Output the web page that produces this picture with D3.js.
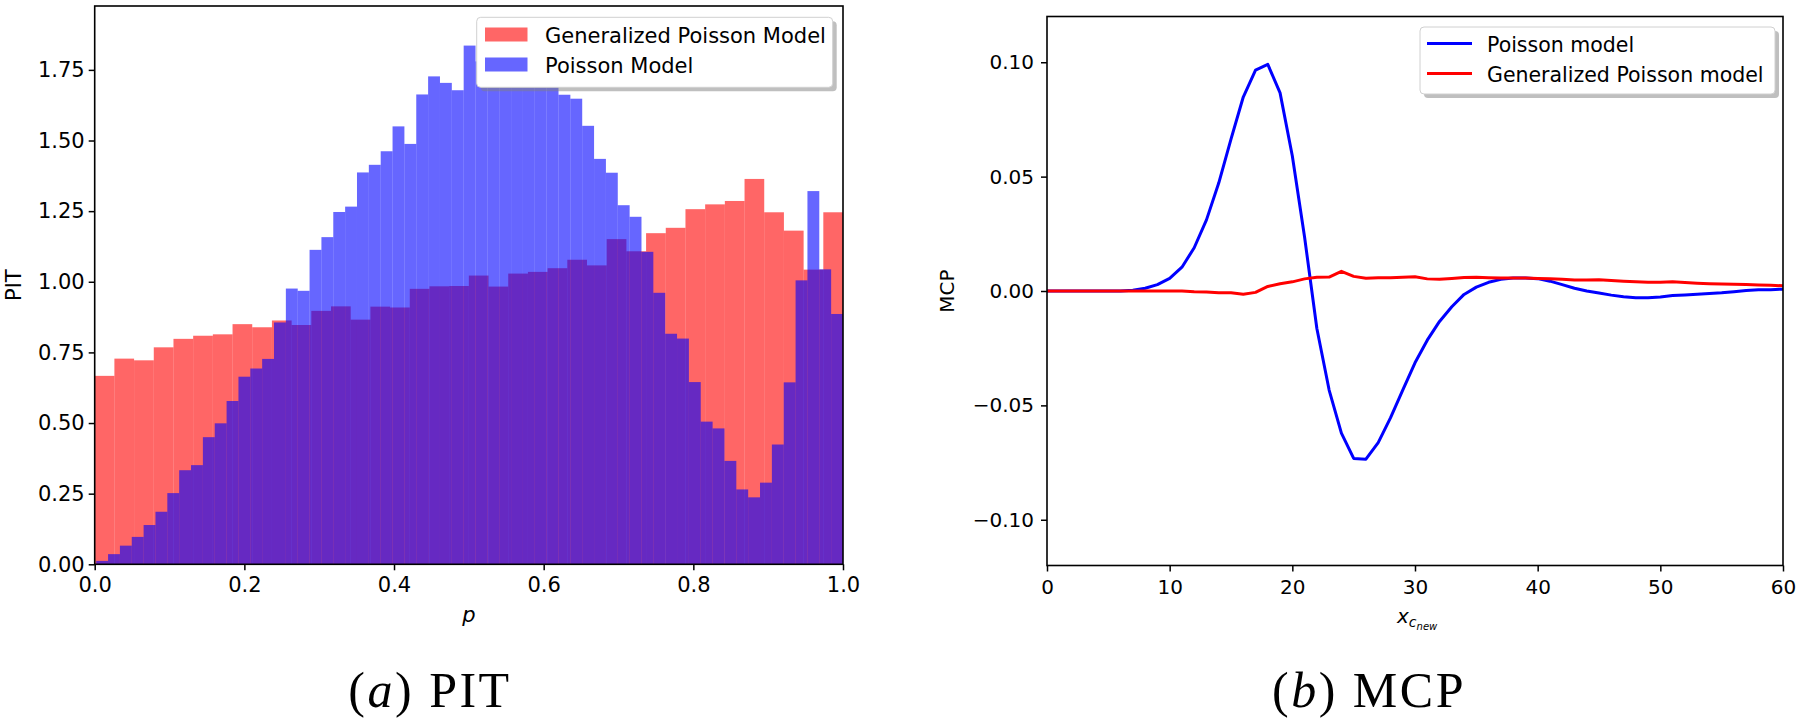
<!DOCTYPE html>
<html><head><meta charset="utf-8">
<script src="https://cdn.jsdelivr.net/npm/d3@7"></script>
<style>
body{margin:0;background:#fff;}
svg{display:block;}
</style></head><body>
<svg id="chart" width="1800" height="723"></svg>
<script>
// ---------- data: (a) PIT histograms (density per bin) ----------
const pitRedRange = [0, 1];          // Generalized Poisson: 38 bins over [0,1]
const pitRedDensity = [0.667,0.728,0.722,0.768,0.798,0.809,0.814,0.850,0.839,0.863,
  0.847,0.897,0.913,0.866,0.912,0.909,0.975,0.984,0.985,1.022,
  0.983,1.029,1.035,1.048,1.078,1.058,1.151,1.108,1.172,1.191,
  1.257,1.274,1.286,1.364,1.246,1.181,1.043,1.246];
const pitBlueRange = [0.002, 1];     // Poisson: 63 bins
const pitBlueDensity = [0.012,0.036,0.066,0.097,0.139,0.186,0.252,0.333,0.351,0.450,
  0.499,0.578,0.664,0.693,0.727,0.856,0.976,0.968,1.113,1.158,
  1.247,1.266,1.387,1.414,1.462,1.550,1.488,1.663,1.727,1.704,
  1.678,1.836,1.780,1.850,1.800,1.882,1.790,1.760,1.720,1.662,
  1.648,1.552,1.435,1.386,1.271,1.230,1.106,0.961,0.816,0.799,
  0.645,0.505,0.481,0.366,0.265,0.237,0.289,0.424,0.644,1.005,
  1.321,1.044,0.886];
const pitXTicks = [0, 0.2, 0.4, 0.6, 0.8, 1.0];
const pitYTicks = [0, 0.25, 0.5, 0.75, 1.0, 1.25, 1.5, 1.75];
const pitLegend = ["Generalized Poisson Model", "Poisson Model"];

// ---------- data: (b) MCP curves ----------
const mcpX = [0,1,2,3,4,5,6,7,8,9,10,11,12,13,14,15,16,17,18,19,20,
  21,22,23,24,25,26,27,28,29,30,31,32,33,34,35,36,37,38,39,40,
  41,42,43,44,45,46,47,48,49,50,51,52,53,54,55,56,57,58,59,60];
const mcpPoisson = [0,0,0,0,0,0,0,0.0003,0.0012,0.0028,0.0055,
  0.0104,0.0189,0.0311,0.0472,0.0664,0.0848,0.0966,0.0991,0.0866,0.0590,
  0.0235,-0.0164,-0.0433,-0.0621,-0.0732,-0.0735,-0.0663,-0.0555,-0.0433,-0.0314,
  -0.0215,-0.0133,-0.0069,-0.0015,0.0017,0.0038,0.0051,0.0057,0.0057,0.0054,
  0.0043,0.0028,0.0012,0.0000,-0.0009,-0.0018,-0.0025,-0.0029,-0.0029,-0.0026,
  -0.0020,-0.0017,-0.0014,-0.0011,-0.0008,-0.0003,0.0002,0.0005,0.0006,0.0008];
const mcpGenPoisson = [0,0,0,0,0,0,0,0,0,0,0,
  0.0000,-0.0003,-0.0004,-0.0008,-0.0008,-0.0014,-0.0006,0.0020,0.0032,0.0040,
  0.0053,0.0060,0.0061,0.0086,0.0064,0.0056,0.0058,0.0058,0.0060,0.0062,
  0.0053,0.0051,0.0055,0.0059,0.0060,0.0058,0.0057,0.0057,0.0057,0.0055,
  0.0054,0.0051,0.0048,0.0048,0.0049,0.0046,0.0043,0.0040,0.0038,0.0038,
  0.0040,0.0037,0.0034,0.0032,0.0031,0.0029,0.0028,0.0026,0.0025,0.0023];
const mcpXTicks = [0, 10, 20, 30, 40, 50, 60];
const mcpYTicks = [-0.10, -0.05, 0, 0.05, 0.10];
const mcpLegend = ["Poisson model", "Generalized Poisson model"];

// ---------- drawing ----------
const svg = d3.select("#chart");
svg.append("rect").attr("width",1800).attr("height",723).attr("fill","#fff");
const FONT = "DejaVu Sans, Verdana, sans-serif";

function histBins(range, dens){
  const n = dens.length, w = (range[1]-range[0])/n;
  return dens.map((v,i)=>({x0: range[0]+i*w, x1: range[0]+(i+1)*w, v}));
}

// ===== Panel (a) =====
const A = {l:94.7, r:843, t:6, b:564.3};
const ymaxA = 1.05*d3.max(pitBlueDensity.concat(pitRedDensity));
const xA = d3.scaleLinear().domain([0,1]).range([A.l,A.r]);
const yA = d3.scaleLinear().domain([0,ymaxA]).range([A.b,A.t]);
const gA = svg.append("g");
function drawHist(bins, color){
  gA.append("g").selectAll("rect").data(bins).join("rect")
    .attr("x", d=>xA(d.x0)).attr("width", d=>xA(d.x1)-xA(d.x0))
    .attr("y", d=>yA(d.v)).attr("height", d=>yA(0)-yA(d.v))
    .attr("fill", color).attr("fill-opacity",0.6);
}
drawHist(histBins(pitRedRange, pitRedDensity), "red");
drawHist(histBins(pitBlueRange, pitBlueDensity), "blue");

const axA_x = gA.append("g").attr("transform",`translate(0,${A.b})`)
  .call(d3.axisBottom(xA).tickValues(pitXTicks).tickFormat(d3.format(".1f")).tickSize(6).tickPadding(7).tickSizeOuter(0));
const axA_y = gA.append("g").attr("transform",`translate(${A.l},0)`)
  .call(d3.axisLeft(yA).tickValues(pitYTicks).tickFormat(d3.format(".2f")).tickSize(6).tickPadding(4).tickSizeOuter(0));
[axA_x, axA_y].forEach(a=>{
  a.select(".domain").remove();
  a.selectAll("line").attr("stroke","#000").attr("stroke-width",1.5);
  a.selectAll("text").attr("font-family",FONT).attr("font-size",21).attr("fill","#000");
});
gA.append("rect").attr("x",A.l).attr("y",A.t).attr("width",A.r-A.l).attr("height",A.b-A.t)
  .attr("fill","none").attr("stroke","#000").attr("stroke-width",1.6);

gA.append("text").attr("transform",`translate(14,${(A.t+A.b)/2}) rotate(-90)`)
  .attr("text-anchor","middle").attr("dominant-baseline","central")
  .attr("font-family",FONT).attr("font-size",21).text("PIT");
gA.append("text").attr("x",(A.l+A.r)/2).attr("y",622).attr("text-anchor","middle")
  .attr("font-family",FONT).attr("font-style","italic").attr("font-size",21).text("p");

// legend (a)
const LA = {x:476.7, y:17.3, w:356, h:70};
gA.append("rect").attr("x",LA.x+4).attr("y",LA.y+4).attr("width",LA.w).attr("height",LA.h)
  .attr("rx",4).attr("fill","#7f7f7f").attr("fill-opacity",0.5);
gA.append("rect").attr("x",LA.x).attr("y",LA.y).attr("width",LA.w).attr("height",LA.h)
  .attr("rx",4).attr("fill","#fff").attr("stroke","#d0d0d0").attr("stroke-width",1);
const legColorsA = ["red","blue"];
pitLegend.forEach((t,i)=>{
  gA.append("rect").attr("x",485).attr("y",27.5+i*30).attr("width",42.5).attr("height",14)
    .attr("fill",legColorsA[i]).attr("fill-opacity",0.6);
  gA.append("text").attr("x",545).attr("y",42.7+i*30).attr("font-family",FONT)
    .attr("font-size",21).text(t);
});

// ===== Panel (b) =====
const B = {l:1047, r:1783, t:16.5, b:565.5};
const xB = d3.scaleLinear().domain([0,60]).range([B.l,B.r]);
const yB = d3.scaleLinear().domain([-0.12,0.12]).range([B.b,B.t]);
const gB = svg.append("g");
const line = d3.line().x((d,i)=>xB(mcpX[i])).y(d=>yB(d));
gB.append("path").attr("d",line(mcpPoisson)).attr("fill","none").attr("stroke","blue")
  .attr("stroke-width",3).attr("stroke-linejoin","round");
gB.append("path").attr("d",line(mcpGenPoisson)).attr("fill","none").attr("stroke","red")
  .attr("stroke-width",3).attr("stroke-linejoin","round");

const fmtB = v => (v<0?"\u2212":"") + d3.format(".2f")(Math.abs(v));
const axB_x = gB.append("g").attr("transform",`translate(0,${B.b})`)
  .call(d3.axisBottom(xB).tickValues(mcpXTicks).tickFormat(d3.format("d")).tickSize(6).tickPadding(8).tickSizeOuter(0));
const axB_y = gB.append("g").attr("transform",`translate(${B.l},0)`)
  .call(d3.axisLeft(yB).tickValues(mcpYTicks).tickFormat(fmtB).tickSize(6).tickPadding(7).tickSizeOuter(0));
[axB_x, axB_y].forEach(a=>{
  a.select(".domain").remove();
  a.selectAll("line").attr("stroke","#000").attr("stroke-width",1.5);
  a.selectAll("text").attr("font-family",FONT).attr("font-size",20).attr("fill","#000");
});
gB.append("rect").attr("x",B.l).attr("y",B.t).attr("width",B.r-B.l).attr("height",B.b-B.t)
  .attr("fill","none").attr("stroke","#000").attr("stroke-width",1.6);

gB.append("text").attr("transform",`translate(947,${(B.t+B.b)/2}) rotate(-90)`)
  .attr("text-anchor","middle").attr("dominant-baseline","central")
  .attr("font-family",FONT).attr("font-size",20).text("MCP");
const xl = gB.append("text").attr("x",(B.l+B.r)/2 - 18).attr("y",623)
  .attr("font-family",FONT).attr("font-style","italic").attr("font-size",20);
xl.append("tspan").text("x");
xl.append("tspan").attr("font-size",14).attr("dy",4).text("c");
xl.append("tspan").attr("font-size",10).attr("dy",3).text("new");

// legend (b)
const LB = {x:1420, y:27, w:355, h:67};
gB.append("rect").attr("x",LB.x+4).attr("y",LB.y+4).attr("width",LB.w).attr("height",LB.h)
  .attr("rx",4).attr("fill","#7f7f7f").attr("fill-opacity",0.5);
gB.append("rect").attr("x",LB.x).attr("y",LB.y).attr("width",LB.w).attr("height",LB.h)
  .attr("rx",4).attr("fill","#fff").attr("stroke","#d0d0d0").attr("stroke-width",1);
const legColorsB = ["blue","red"];
mcpLegend.forEach((t,i)=>{
  gB.append("line").attr("x1",1427).attr("x2",1472).attr("y1",43.5+i*30).attr("y2",43.5+i*30)
    .attr("stroke",legColorsB[i]).attr("stroke-width",3);
  gB.append("text").attr("x",1487).attr("y",52+i*30).attr("font-family",FONT)
    .attr("font-size",20.5).text(t);
});

// ===== captions =====
const SERIF = "Liberation Serif, DejaVu Serif, serif";
function caption(cx, letter, word){
  const t = svg.append("text").attr("x",cx).attr("y",707).attr("text-anchor","middle")
    .attr("font-family",SERIF).attr("font-size",50).attr("letter-spacing",2.5);
  t.append("tspan").text("(");
  t.append("tspan").attr("font-style","italic").text(letter);
  t.append("tspan").text(") " + word);
}
caption(430, "a", "PIT");
caption(1369, "b", "MCP");
</script>
</body></html>
